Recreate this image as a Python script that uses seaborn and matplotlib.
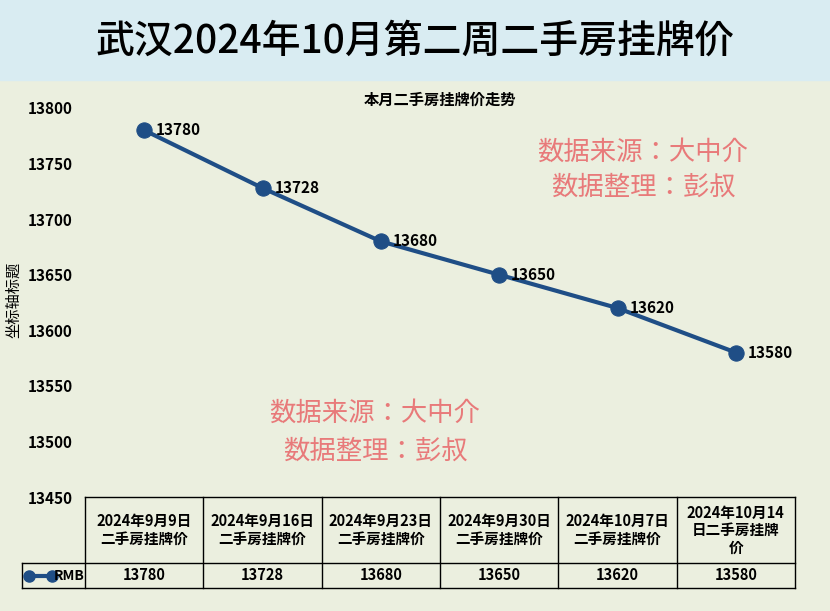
import matplotlib
matplotlib.use("Agg")
import matplotlib.pyplot as plt
from matplotlib import font_manager as fm
import seaborn as sns
import pandas as pd
from matplotlib.lines import Line2D

cands = [f for f in fm.findSystemFonts() if "CJK" in f or "cjk" in f.lower()]
for f in cands:
    try:
        fm.fontManager.addfont(f)
    except Exception:
        pass
names = sorted({fm.FontProperties(fname=f).get_name() for f in cands})
cjk = next((n for n in names if "SC" in n), names[0] if names else "DejaVu Sans")
plt.rcParams["font.family"] = [cjk, "DejaVu Sans"]

categories = ["2024年9月9日\n二手房挂牌价", "2024年9月16日\n二手房挂牌价", "2024年9月23日\n二手房挂牌价",
              "2024年9月30日\n二手房挂牌价", "2024年10月7日\n二手房挂牌价", "2024年10月14\n日二手房挂牌\n价"]
values = [13780, 13728, 13680, 13650, 13620, 13580]
yticks = [13450, 13500, 13550, 13600, 13650, 13700, 13750, 13800]
series_name = "RMB"

W, H = 830, 611
fig = plt.figure(figsize=(8.3, 6.11), dpi=100)
fig.patch.set_facecolor("#ebefdf")
fig.add_artist(plt.Rectangle((0, 1 - 80 / H), 1, 80 / H, transform=fig.transFigure, color="#d9ecf2", zorder=0))
fig.text(0.5, 1 - 42 / H, "武汉2024年10月第二周二手房挂牌价", ha="center", va="center", fontsize=28,
         fontweight="medium")

def fx(px): return px / W
def fy(py): return 1 - py / H

ax = fig.add_axes([fx(85), fy(497), fx(795) - fx(85), (497 - 108) / H])
ax.set_facecolor("none")
df = pd.DataFrame({"x": range(len(values)), "y": values})
color = "#1f4e86"
sns.lineplot(data=df, x="x", y="y", ax=ax, color=color, lw=3, marker="o", markersize=11,
             markeredgecolor=color, markerfacecolor=color)
for i, v in enumerate(values):
    ax.text(i + 0.1, v, str(v), va="center", ha="left", fontsize=11, fontweight="bold")
ax.set_xlim(-0.5, len(values) - 0.5)
ax.set_ylim(13450, 13800)
ax.set_yticks(yticks)
ax.set_yticklabels([str(t) for t in yticks], fontsize=11, fontweight="bold")
ax.set_xticks([])
ax.set_xlabel("")
ax.set_ylabel("")
ax.tick_params(axis="y", length=0, pad=9)
for s in ax.spines.values():
    s.set_visible(False)
ax.set_title("本月二手房挂牌价走势", fontsize=11, fontweight="bold", pad=2)
fig.text(fx(14), fy(300), "坐标轴标题", rotation=90, ha="center", va="center", fontsize=11)

wm = "#e87a7a"
for (cx, cy1, cy2) in [(643, 152, 187), (375, 413, 451)]:
    fig.text(fx(cx), fy(cy1), "数据来源：大中介", ha="center", va="center", fontsize=19, color=wm)
    fig.text(fx(cx), fy(cy2), "数据整理：彭叔", ha="center", va="center", fontsize=19, color=wm)

x0, x1 = 85, 795
cw = (x1 - x0) / len(values)
ytop, ymid, ybot = 497, 563, 588
lk = dict(transform=fig.transFigure, color="black", lw=1)
fig.add_artist(Line2D([fx(x0), fx(x1)], [fy(ytop)] * 2, **lk))
fig.add_artist(Line2D([fx(22), fx(x1)], [fy(ymid)] * 2, **lk))
fig.add_artist(Line2D([fx(22), fx(x1)], [fy(ybot)] * 2, **lk))
fig.add_artist(Line2D([fx(22), fx(22)], [fy(ymid), fy(ybot)], **lk))
for i in range(len(values) + 1):
    fig.add_artist(Line2D([fx(x0 + i * cw)] * 2, [fy(ytop), fy(ybot)], **lk))
for i, (c, v) in enumerate(zip(categories, values)):
    cx = fx(x0 + (i + 0.5) * cw)
    fig.text(cx, fy((ytop + ymid) / 2), c, ha="center", va="center", fontsize=10.5, fontweight="bold", linespacing=1.1)
    fig.text(cx, fy((ymid + ybot) / 2), str(v), ha="center", va="center", fontsize=10.5, fontweight="bold")
fig.add_artist(Line2D([fx(29), fx(52)], [fy(576)] * 2, transform=fig.transFigure, color=color, lw=3,
                      marker="o", markersize=8))
fig.text(fx(84), fy(576), series_name, ha="right", va="center", fontsize=10, fontweight="bold")

fig.savefig("out.png", dpi=100, facecolor=fig.get_facecolor())
